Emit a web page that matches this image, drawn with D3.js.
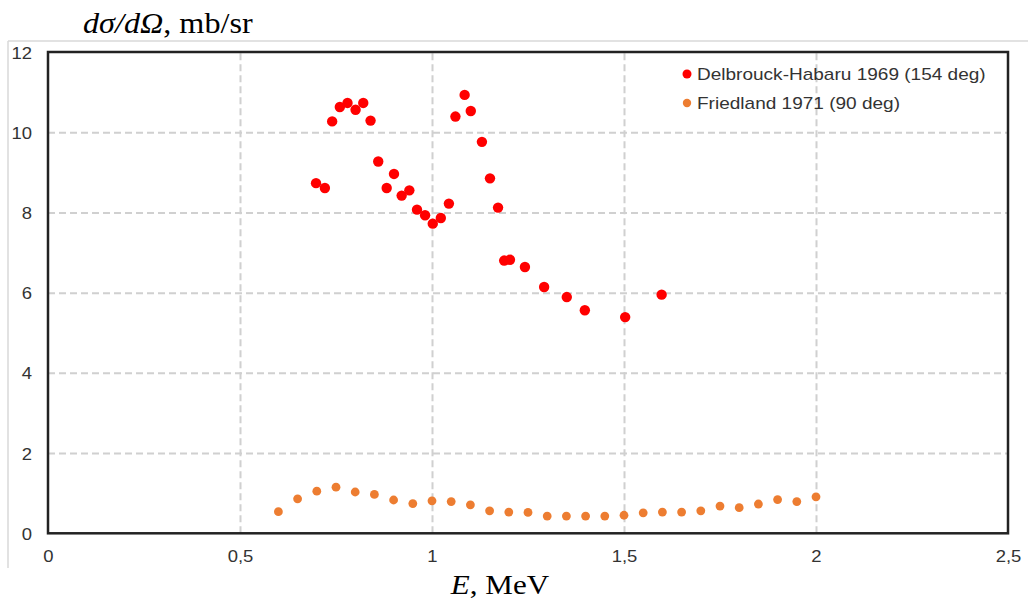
<!DOCTYPE html>
<html>
<head>
<meta charset="utf-8">
<script src="https://cdn.jsdelivr.net/npm/d3@7"></script>
<style>
html,body{margin:0;padding:0;background:#fff;}
svg{display:block;}
</style>
</head>
<body>
<svg id="chart" width="1028" height="603"></svg>
<script>
// ---- data ----
const delbrouckE = [0.698,0.721,0.740,0.760,0.780,0.801,0.821,0.840,0.860,0.882,0.901,0.921,0.941,0.961,0.982,1.002,1.023,1.044,1.061,1.085,1.101,1.130,1.151,1.172,1.188,1.203,1.242,1.292,1.351,1.398,1.503,1.598];
const delbrouckXS = [8.73,8.61,10.27,10.63,10.73,10.56,10.73,10.29,9.27,8.61,8.96,8.42,8.55,8.07,7.93,7.72,7.86,8.22,10.39,10.93,10.53,9.76,8.85,8.12,6.80,6.82,6.64,6.14,5.89,5.56,5.39,5.95];
const friedlandE = [0.60,0.65,0.70,0.75,0.80,0.85,0.90,0.95,1.00,1.05,1.10,1.15,1.20,1.25,1.30,1.35,1.40,1.45,1.50,1.55,1.60,1.65,1.70,1.75,1.80,1.85,1.90,1.95,2.00];
const friedlandXS = [0.54,0.86,1.05,1.15,1.03,0.97,0.83,0.74,0.81,0.79,0.71,0.56,0.53,0.52,0.43,0.43,0.43,0.43,0.45,0.51,0.53,0.53,0.56,0.68,0.64,0.73,0.84,0.79,0.91];
const xTicks = [0,0.5,1,1.5,2,2.5];
const xTickLabels = ["0","0,5","1","1,5","2","2,5"];
const yTicks = [0,2,4,6,8,10,12];
const seriesNames = ["Delbrouck-Habaru 1969 (154 deg)","Friedland 1971 (90 deg)"];

// ---- layout ----
const svg = d3.select("#chart");
const L = 48, R = 1008, T = 52, B = 533.3;
const SX = 1.12; // horizontal stretch of text in reference
const x = d3.scaleLinear().domain([0,2.5]).range([L,R]);
const y = d3.scaleLinear().domain([0,12]).range([B,T]);

// outer light frame
svg.append("line").attr("x1",8).attr("x2",8).attr("y1",41).attr("y2",568).attr("stroke","#d9d9d9").attr("stroke-width",1.5);
svg.append("line").attr("x1",8).attr("x2",1028).attr("y1",41).attr("y2",41).attr("stroke","#d9d9d9").attr("stroke-width",1.5);

// grid
const gx = d3.axisBottom(x).tickValues(xTicks.filter(d=>d>0&&d<2.5)).tickSize(-(B-T)).tickFormat("");
svg.append("g").attr("transform",`translate(0,${B})`).call(gx)
  .call(g=>g.select(".domain").remove())
  .call(g=>g.selectAll("line").attr("stroke","#d0d0d0").attr("stroke-width",2).attr("stroke-dasharray","7,4"));
const gy = d3.axisLeft(y).tickValues(yTicks.filter(d=>d>0&&d<12)).tickSize(-(R-L)).tickFormat("");
svg.append("g").attr("transform",`translate(${L},0)`).call(gy)
  .call(g=>g.select(".domain").remove())
  .call(g=>g.selectAll("line").attr("stroke","#d0d0d0").attr("stroke-width",2).attr("stroke-dasharray","7,4"));

// tick labels (use axes for positions)
const ax = d3.axisBottom(x).tickValues(xTicks).tickSize(0).tickPadding(0).tickFormat((d,i)=>xTickLabels[i]);
svg.append("g").attr("transform",`translate(0,${B})`).call(ax)
  .call(g=>g.select(".domain").remove())
  .call(g=>g.selectAll(".tick text").attr("y",0).attr("dy",0)
     .attr("transform",`translate(0,29) scale(${SX},1)`)
     .attr("font-family","Liberation Sans, Arial, sans-serif").attr("font-size",16.5).attr("fill","#333"));
const ay = d3.axisLeft(y).tickValues(yTicks).tickSize(0).tickPadding(0).tickFormat(d3.format("d"));
svg.append("g").attr("transform",`translate(0,0)`).call(ay)
  .call(g=>g.select(".domain").remove())
  .call(g=>g.selectAll(".tick text").attr("x",0).attr("dy",0)
     .attr("transform",`translate(32,6) scale(${SX},1)`).attr("text-anchor","end")
     .attr("font-family","Liberation Sans, Arial, sans-serif").attr("font-size",16.5).attr("fill","#333"));

// plot frame
svg.append("rect").attr("x",L).attr("y",T).attr("width",R-L).attr("height",B-T)
  .attr("fill","none").attr("stroke","#222").attr("stroke-width",2.5);

// points
svg.append("g").selectAll("circle").data(friedlandE).join("circle")
  .attr("cx",d=>x(d)).attr("cy",(d,i)=>y(friedlandXS[i])).attr("r",4.4).attr("fill","#ed7d31");
svg.append("g").selectAll("circle").data(delbrouckE).join("circle")
  .attr("cx",d=>x(d)).attr("cy",(d,i)=>y(delbrouckXS[i])).attr("r",5.2).attr("fill","#ff0000");

// legend
const colors = ["#ff0000","#ed7d31"];
const lg = svg.append("g");
seriesNames.forEach((n,i)=>{
  const cy = 74 + i*29;
  lg.append("circle").attr("cx",687).attr("cy",cy).attr("r",i===0?4.5:4.2).attr("fill",colors[i]);
  lg.append("text").attr("transform",`translate(697,${cy+6}) scale(${SX},1)`)
    .attr("font-family","Liberation Sans, Arial, sans-serif").attr("font-size",17).attr("fill","#333").text(n);
});

// titles
const yt = svg.append("text").attr("transform",`translate(83,33) scale(1.11,1)`)
  .attr("font-family","Liberation Serif, Times New Roman, serif").attr("font-size",29).attr("fill","#000");
yt.append("tspan").attr("font-style","italic").text("dσ/dΩ");
yt.append("tspan").text(", mb/sr");
const xt = svg.append("text").attr("transform",`translate(500,594) scale(1.11,1)`).attr("text-anchor","middle")
  .attr("font-family","Liberation Serif, Times New Roman, serif").attr("font-size",28).attr("fill","#000");
xt.append("tspan").attr("font-style","italic").text("E");
xt.append("tspan").text(", MeV");
</script>
</body>
</html>
